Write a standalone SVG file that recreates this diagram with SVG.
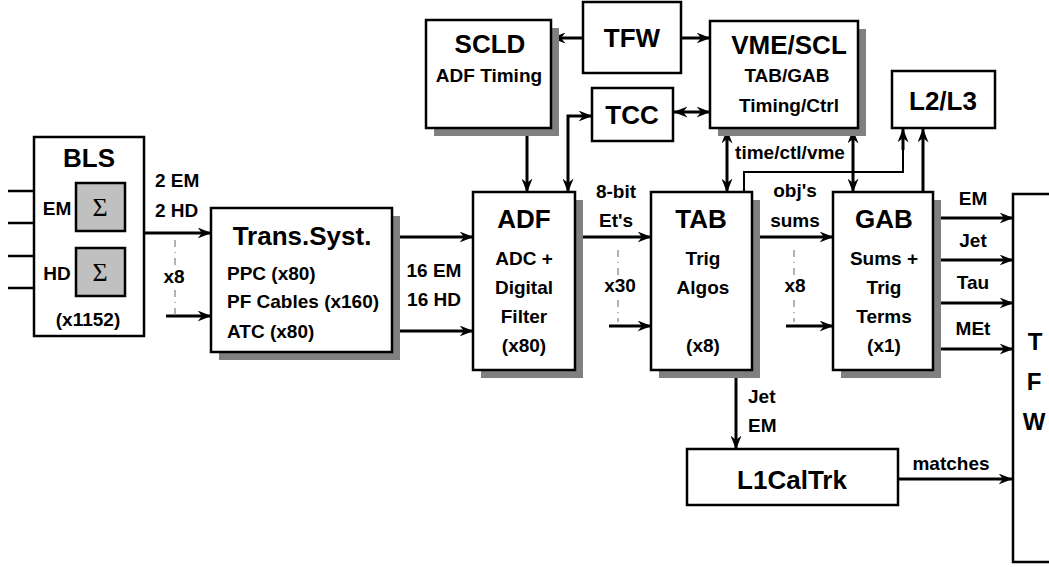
<svg xmlns="http://www.w3.org/2000/svg" width="1049" height="567" viewBox="0 0 1049 567">
<defs>
<marker id="ah" markerUnits="userSpaceOnUse" markerWidth="14" markerHeight="11" refX="13.5" refY="5.5" orient="auto-start-reverse" viewBox="0 0 14 11"><path d="M0,0 L14,5.5 L0,11 L4.5,5.5 z" fill="#000"/></marker>
</defs>
<style>
.box{fill:#fff;stroke:#000;stroke-width:2.5}
.sig{fill:#c0c0c0;stroke:#000;stroke-width:2.5}
.sh{fill:#808080}
.t{font-family:"Liberation Sans",Arial,Helvetica,sans-serif;font-weight:bold;fill:#000;text-anchor:middle}
.l{text-anchor:start}
.big{font-size:26px}
.sm{font-size:19px}
.sg{font-family:"Liberation Serif","Times New Roman",serif;font-size:26px;text-anchor:middle;fill:#000}
.ln{fill:none;stroke:#000;stroke-width:3}
.thin{fill:none;stroke:#000;stroke-width:2}
.in{fill:none;stroke:#000;stroke-width:2.5}
.a{marker-end:url(#ah)}
.aa{marker-start:url(#ah);marker-end:url(#ah)}
.dash{stroke:#999;stroke-width:1.5;stroke-dasharray:7 5 1 5;fill:none}
</style>
<rect width="1049" height="567" fill="#fff"/>

<g id="connectors">
  <line class="in" x1="8" y1="191" x2="76" y2="191"/>
  <line class="in" x1="8" y1="223" x2="76" y2="223"/>
  <line class="in" x1="8" y1="256" x2="76" y2="256"/>
  <line class="in" x1="8" y1="288" x2="76" y2="288"/>
  <line class="ln a" x1="144" y1="233" x2="211" y2="233"/>
  <line class="ln a" x1="166" y1="316" x2="211" y2="316"/>
  <line class="dash" x1="175" y1="240" x2="175" y2="268"/>
  <line class="dash" x1="175" y1="290" x2="175" y2="314"/>
  <text class="t sm" x="155" y="187" style="text-anchor:start">2 EM</text>
  <text class="t sm" x="155" y="217" style="text-anchor:start">2 HD</text>
  <text class="t sm" x="174" y="283">x8</text>
  <line class="ln a" x1="395" y1="237" x2="473" y2="237"/>
  <line class="ln a" x1="395" y1="331" x2="473" y2="331"/>
  <text class="t sm" x="434" y="277">16 EM</text>
  <text class="t sm" x="434" y="306">16 HD</text>
  <line class="ln a" x1="577" y1="237" x2="651" y2="237"/>
  <line class="ln a" x1="609" y1="326" x2="651" y2="326"/>
  <line class="dash" x1="618" y1="250" x2="618" y2="278"/>
  <line class="dash" x1="618" y1="300" x2="618" y2="322"/>
  <text class="t sm" x="616" y="198">8-bit</text>
  <text class="t sm" x="616" y="227">Et's</text>
  <text class="t sm" x="620" y="292">x30</text>
  <line class="ln a" x1="754" y1="237" x2="833" y2="237"/>
  <line class="ln a" x1="786" y1="326" x2="833" y2="326"/>
  <line class="dash" x1="794" y1="250" x2="794" y2="278"/>
  <line class="dash" x1="794" y1="300" x2="794" y2="322"/>
  <text class="t sm" x="795" y="197">obj's</text>
  <text class="t sm" x="795" y="227">sums</text>
  <text class="t sm" x="795" y="292">x8</text>
  <line class="ln a" x1="935" y1="218" x2="1013" y2="218"/>
  <line class="ln a" x1="935" y1="260" x2="1013" y2="260"/>
  <line class="ln a" x1="935" y1="303" x2="1013" y2="303"/>
  <line class="ln a" x1="935" y1="349" x2="1013" y2="349"/>
  <text class="t sm" x="973" y="205">EM</text>
  <text class="t sm" x="973" y="247">Jet</text>
  <text class="t sm" x="973" y="289">Tau</text>
  <text class="t sm" x="973" y="335">MEt</text>
  <line class="ln a" x1="736" y1="372" x2="736" y2="449"/>
  <text class="t sm l" x="748" y="403">Jet</text>
  <text class="t sm l" x="748" y="432">EM</text>
  <line class="ln a" x1="899" y1="479" x2="1012" y2="479"/>
  <text class="t sm" x="951" y="470">matches</text>
  <line class="ln a" x1="583" y1="38" x2="552" y2="38"/>
  <line class="ln a" x1="681" y1="38" x2="710" y2="38"/>
  <line class="ln aa" x1="674" y1="112" x2="710" y2="112"/>
  <line class="ln a" x1="527" y1="130" x2="527" y2="192"/>
  <polyline class="ln aa" points="592,116 568,116 568,192"/>
  <line class="ln aa" x1="727" y1="130" x2="727" y2="192"/>
  <line class="ln aa" x1="853" y1="130" x2="853" y2="192"/>
  <text class="t sm" x="790" y="159">time/ctl/vme</text>
  <polyline class="thin" points="744,192 744,172 903,172 903,140"/>
  <line class="ln a" x1="903" y1="150" x2="903" y2="129"/>
  <line class="ln a" x1="923" y1="192" x2="923" y2="129"/>
</g>

<g id="BLS">
  <rect class="box" x="34" y="137" width="110" height="199"/>
  <text class="t big" x="89" y="167">BLS</text>
  <rect class="sig" x="76" y="183" width="49" height="48"/>
  <text class="sg" x="100" y="216">Σ</text>
  <rect class="sig" x="76" y="248" width="49" height="48"/>
  <text class="sg" x="100" y="281">Σ</text>
  <text class="t sm" x="57" y="215">EM</text>
  <text class="t sm" x="57" y="280">HD</text>
  <text class="t sm" x="88" y="326">(x1152)</text>
</g>

<g id="TransSyst">
  <rect class="sh" x="219" y="216" width="181" height="144"/>
  <rect class="box" x="211" y="208" width="181" height="144"/>
  <text class="t big" x="302" y="245">Trans.Syst.</text>
  <text class="t sm l" x="227" y="280">PPC (x80)</text>
  <text class="t sm l" x="227" y="308">PF Cables (x160)</text>
  <text class="t sm l" x="227" y="338">ATC (x80)</text>
</g>

<g id="ADF">
  <rect class="sh" x="481" y="200" width="102" height="178"/>
  <rect class="box" x="473" y="192" width="102" height="178"/>
  <text class="t big" x="524" y="228">ADF</text>
  <text class="t sm" x="524" y="265">ADC +</text>
  <text class="t sm" x="524" y="294">Digital</text>
  <text class="t sm" x="524" y="323">Filter</text>
  <text class="t sm" x="524" y="352">(x80)</text>
</g>

<g id="TAB">
  <rect class="sh" x="659" y="200" width="101" height="178"/>
  <rect class="box" x="651" y="192" width="101" height="178"/>
  <text class="t big" x="701" y="228">TAB</text>
  <text class="t sm" x="703" y="265">Trig</text>
  <text class="t sm" x="703" y="294">Algos</text>
  <text class="t sm" x="703" y="352">(x8)</text>
</g>

<g id="GAB">
  <rect class="sh" x="841" y="200" width="100" height="178"/>
  <rect class="box" x="833" y="192" width="100" height="178"/>
  <text class="t big" x="884" y="228">GAB</text>
  <text class="t sm" x="884" y="265">Sums +</text>
  <text class="t sm" x="884" y="294">Trig</text>
  <text class="t sm" x="884" y="323">Terms</text>
  <text class="t sm" x="884" y="352">(x1)</text>
</g>

<g id="TFW_right">
  <rect class="box" x="1013" y="194" width="50" height="368"/>
  <text class="t" style="font-size:24px" x="1035" y="350">T</text>
  <text class="t" style="font-size:24px" x="1034" y="390">F</text>
  <text class="t" style="font-size:24px" x="1034" y="430">W</text>
</g>

<g id="L1CalTrk">
  <rect class="box" x="687" y="449" width="211" height="56"/>
  <text class="t big" x="792" y="489">L1CalTrk</text>
</g>

<g id="SCLD">
  <rect class="sh" x="434" y="28" width="125" height="108"/>
  <rect class="box" x="426" y="20" width="125" height="108"/>
  <text class="t big" x="490" y="53">SCLD</text>
  <text class="t sm" x="489" y="82">ADF Timing</text>
</g>

<g id="TFW_top">
  <rect class="box" x="583" y="2" width="98" height="71"/>
  <text class="t big" x="632" y="47">TFW</text>
</g>

<g id="TCC">
  <rect class="box" x="592" y="88" width="81" height="53"/>
  <text class="t big" x="632" y="124">TCC</text>
</g>

<g id="VMESCL">
  <rect class="sh" x="718" y="29" width="148" height="107"/>
  <rect class="box" x="710" y="21" width="148" height="107"/>
  <text class="t big" x="789" y="54">VME/SCL</text>
  <text class="t sm" x="787" y="82">TAB/GAB</text>
  <text class="t sm" x="789" y="112">Timing/Ctrl</text>
</g>

<g id="L2L3">
  <rect class="box" x="892" y="71" width="103" height="57"/>
  <text class="t big" x="943" y="110">L2/L3</text>
</g>
</svg>
